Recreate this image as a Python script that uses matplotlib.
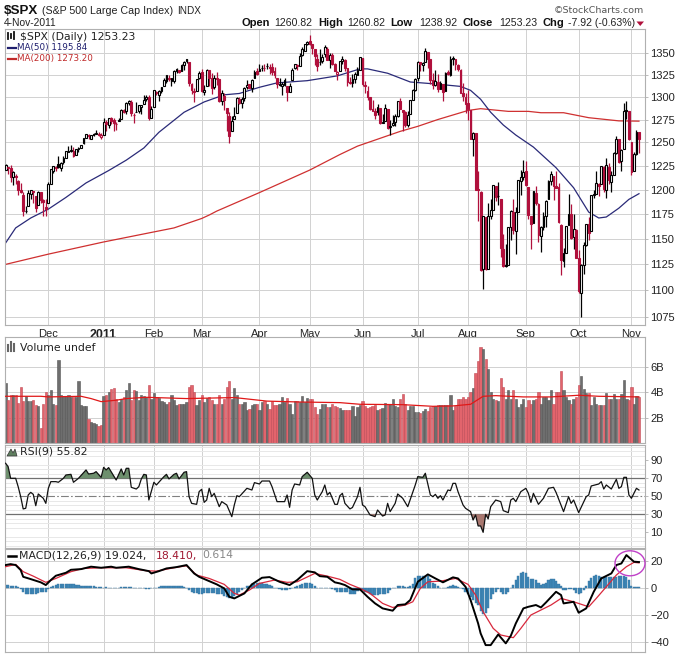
import numpy as np
import matplotlib
matplotlib.use('Agg')
import matplotlib.pyplot as plt
from matplotlib.lines import Line2D
from matplotlib.patches import Ellipse, Polygon
from matplotlib.ticker import NullFormatter

# daily prices, 5-Nov-2010 to 4-Nov-2011, month by month
close = [1225.85,1223.25,1213.40,1218.71,1213.54,1199.21,1197.75,1178.34,1178.59,1196.69,1199.73,1197.84,1180.73,1198.07,1189.40,1187.76,1180.55,
    1206.07,1221.53,1224.71,1223.12,1223.75,1228.28,1233.00,1240.40,1240.46,1241.59,1235.23,1242.87,1243.91,1247.08,1254.60,1258.84,1256.77,1257.54,1258.51,1259.78,1257.88,1257.64,
    1271.87,1270.20,1276.56,1273.85,1271.50,1269.75,1274.48,1285.96,1283.76,1293.24,1295.02,1281.92,1280.26,1283.35,1290.84,1291.18,1296.63,1299.54,1276.34,1286.12,
    1307.59,1304.03,1307.10,1310.87,1319.05,1324.57,1320.88,1321.87,1329.15,1332.32,1328.01,1336.32,1340.43,1343.01,1315.44,1307.40,1306.10,1319.88,1327.22,
    1306.33,1308.44,1330.97,1321.15,1310.13,1321.82,1320.02,1295.11,1304.28,1296.39,1281.87,1256.88,1273.72,1279.21,1298.38,1293.77,1297.54,1309.66,1313.80,1310.19,1319.44,1328.26,1325.83,
    1332.41,1332.87,1332.63,1335.54,1333.51,1328.17,1324.46,1314.16,1314.41,1314.52,1319.68,1305.14,1312.62,1330.36,1337.38,1335.25,1347.24,1355.66,1360.48,1363.61,
    1361.22,1356.62,1347.32,1335.10,1340.20,1346.29,1357.16,1342.08,1348.65,1337.77,1329.47,1328.98,1340.68,1343.60,1333.27,1317.37,1316.28,1320.47,1325.69,1331.10,1345.20,
    1314.55,1312.94,1300.16,1286.17,1284.94,1279.56,1289.00,1270.98,1271.83,1287.87,1265.42,1267.64,1271.50,1278.36,1295.52,1287.14,1283.50,1268.45,1280.10,1296.67,1307.41,1320.64,
    1339.67,1337.88,1339.22,1353.22,1343.80,1319.49,1313.64,1317.72,1308.87,1316.14,1305.44,1326.73,1325.84,1343.80,1345.02,1337.43,1331.94,1304.89,1300.67,1292.28,
    1286.94,1254.05,1260.34,1200.07,1199.38,1119.46,1172.53,1120.76,1172.64,1178.81,1204.49,1192.76,1193.89,1140.65,1123.53,1123.82,1162.35,1177.60,1159.27,1176.80,1210.08,1212.92,1218.89,
    1204.42,1173.97,1165.24,1198.62,1185.90,1154.23,1162.27,1172.87,1188.68,1209.11,1216.01,1204.09,1202.09,1166.76,1129.56,1136.43,1162.95,1175.38,1151.06,1160.40,1131.42,
    1099.23,1123.95,1144.03,1164.97,1155.46,1194.89,1195.54,1207.25,1203.66,1224.58,1200.86,1225.38,1209.88,1215.39,1238.25,1254.19,1229.05,1242.00,1284.59,1285.09,1253.30,
    1218.28,1237.90,1261.15,1253.23]

open_ = [1221,1223,1223,1213,1214,1209,1200,1194,1178,1183,1196,1198,1193,1184,1198,1189,1182,
    1186,1206,1219,1223,1227,1223,1229,1233,1240,1241,1241,1236,1243,1244,1249,1255,1258,1254,1259,1259,1259,1256,
    1258,1272,1269,1277,1275,1270,1273,1276,1285,1284,1293,1294,1280,1283,1284,1289,1292,1298,1300,1277,
    1289,1306,1302,1307,1312,1318,1322,1318,1318,1329,1331,1329,1336,1341,1340,1315,1307,1307,1321,
    1328,1306,1313,1331,1322,1311,1321,1320,1295,1301,1288,1279,1262,1276,1282,1298,1293,1299,1311,1315,1310,1321,1329,
    1329,1333,1333,1335,1334,1334,1329,1322,1314,1312,1314,1313,1306,1319,1333,1337,1335,1348,1353,1361,
    1365,1361,1355,1344,1340,1341,1349,1355,1342,1348,1338,1326,1329,1341,1342,1333,1317,1316,1320,1325,1331,
    1345,1314,1307,1300,1287,1284,1283,1288,1271,1273,1287,1267,1269,1272,1279,1295,1286,1283,1269,1281,1297,1308,
    1321,1340,1337,1340,1352,1343,1319,1314,1317,1309,1315,1307,1328,1325,1343,1344,1337,1331,1305,1300,
    1293,1286,1254,1260,1201,1198,1121,1172,1121,1173,1179,1204,1193,1190,1140,1124,1124,1162,1177,1158,1177,1209,1213,
    1219,1203,1173,1166,1197,1185,1153,1162,1173,1190,1209,1214,1204,1203,1164,1128,1136,1164,1175,1152,1159,
    1131,1098,1124,1144,1165,1158,1194,1196,1206,1206,1224,1200,1224,1208,1215,1239,1254,1230,1243,1284,1284,
    1251,1220,1238,1260.82]

high = [1227,1224,1226,1219,1216,1210,1207,1198,1183,1200,1200,1199,1193,1199,1198,1190,1190,
    1208,1222,1225,1225,1235,1229,1235,1241,1246,1247,1245,1243,1245,1247,1255,1259,1259,1258,1260,1263,1261,1260,
    1277,1275,1277,1278,1277,1272,1277,1287,1287,1294,1297,1297,1282,1294,1291,1291,1302,1302,1302,1290,
    1308,1307,1308,1311,1322,1325,1325,1322,1331,1333,1331,1338,1341,1344,1340,1316,1310,1320,1329,
    1332,1314,1332,1331,1327,1325,1328,1320,1308,1304,1288,1283,1279,1289,1300,1300,1300,1311,1319,1315,1320,1331,1333,
    1338,1336,1338,1339,1338,1339,1334,1322,1322,1317,1321,1313,1316,1333,1338,1338,1350,1358,1361,1364,
    1371,1361,1355,1349,1355,1349,1360,1357,1350,1350,1339,1330,1341,1347,1343,1333,1323,1326,1328,1334,1346,
    1345,1318,1312,1300,1297,1288,1292,1288,1281,1292,1287,1275,1280,1281,1296,1299,1286,1284,1284,1297,1309,1322,
    1341,1340,1340,1356,1352,1343,1327,1331,1326,1318,1315,1328,1331,1347,1347,1344,1338,1332,1316,1304,
    1308,1286,1261,1260,1219,1199,1173,1172,1186,1190,1205,1204,1208,1190,1155,1145,1162,1179,1190,1182,1210,1221,1231,
    1230,1203,1173,1199,1204,1186,1163,1177,1189,1210,1220,1214,1220,1207,1165,1141,1163,1196,1185,1175,1160,
    1139,1125,1147,1165,1172,1195,1200,1220,1207,1225,1225,1233,1228,1219,1240,1257,1254,1243,1293,1295,1284,
    1251,1240,1263,1260.82]

low = [1221,1216,1208,1205,1206,1194,1197,1173,1176,1183,1190,1186,1177,1184,1186,1173,1173,
    1186,1206,1217,1219,1223,1220,1227,1233,1240,1240,1234,1236,1240,1244,1248,1255,1254,1254,1257,1259,1257,1254,
    1258,1262,1266,1270,1262,1263,1273,1276,1282,1281,1291,1279,1271,1283,1282,1281,1292,1295,1274,1277,
    1289,1302,1295,1304,1312,1316,1318,1312,1316,1327,1327,1329,1331,1339,1312,1303,1294,1307,1320,
    1306,1302,1313,1312,1303,1309,1314,1294,1291,1286,1262,1249,1262,1276,1282,1292,1288,1295,1309,1310,1306,1321,1325,
    1329,1329,1330,1332,1326,1325,1322,1310,1313,1302,1313,1295,1306,1319,1332,1331,1336,1347,1353,1360,
    1360,1349,1337,1329,1336,1339,1346,1342,1333,1337,1329,1319,1329,1338,1330,1312,1315,1311,1316,1325,1331,
    1313,1305,1297,1285,1284,1276,1280,1270,1271,1273,1265,1258,1268,1268,1278,1287,1262,1267,1267,1281,1297,1307,
    1318,1330,1330,1340,1333,1315,1309,1313,1306,1309,1295,1307,1325,1324,1336,1331,1329,1304,1296,1282,
    1275,1254,1235,1200,1168,1119,1101,1120,1121,1170,1179,1188,1184,1132,1122,1122,1124,1149,1155,1135,1177,1195,1210,
    1204,1170,1140,1166,1184,1147,1137,1159,1162,1190,1205,1189,1202,1166,1115,1122,1136,1164,1150,1140,1131,
    1098,1075,1116,1143,1149,1158,1191,1196,1193,1206,1198,1191,1206,1198,1215,1238,1228,1220,1243,1276,1253,
    1215,1220,1236,1238.92]

# moving averages, read at the bends (bar number, price)
ma50_x = [0,4,10,17,24,32,41,48,55,61,71,79,87,93,101,108,120,132,141,144,152,161,170,181,185,189,193,198,203,210,219,226,232,236,239,244,248,252]
ma50_y = [1146,1161,1171,1180,1192,1207,1220,1231,1244,1261,1283,1294.5,1302.5,1304,1311,1316,1318.5,1324,1332,1332,1327,1317,1315,1312,1307.5,1297.5,1283,1269,1258,1245,1223,1202,1177,1171,1172,1181,1190,1195.84]
ma200_x = [0,17,39,59,67,78,81,84,101,110,121,133,140,157,164,172,184,189,200,208,213,222,232,244,252]
ma200_y = [1125,1135,1147,1157,1161,1170.5,1174,1178,1197,1207.5,1220.5,1237,1246,1262,1267.5,1275,1285,1287,1284,1284,1282.5,1282.5,1277,1273.5,1273.2]

# volume in billions
volume = [4.76,3.4,3.8,3.8,3.8,3.15,4.4,3.3,3.7,3.3,3.3,3.4,3.0,2.9,1.15,3.05,4.0,
    3.8,4.2,3.1,3.0,6.5,3.8,3.7,3.7,3.8,3.6,3.6,3.6,4.85,3.0,2.9,2.9,1.9,1.65,1.6,1.5,1.35,1.45,
    3.7,3.8,4.0,4.25,4.3,3.5,3.25,3.5,3.6,4.15,4.7,3.35,4.15,4.1,3.35,3.8,3.7,3.6,4.6,3.5,
    3.9,3.6,3.55,3.3,3.25,3.1,3.25,3.8,3.35,3.0,3.1,3.1,3.1,3.25,4.4,4.6,4.05,3.0,3.35,
    3.75,3.25,3.55,3.6,3.35,3.1,3.05,3.8,3.05,3.45,4.4,4.85,3.45,4.35,3.75,3.1,3.1,3.25,2.6,2.7,3.0,3.1,3.1,
    2.6,3.25,3.3,3.1,2.7,3.3,3.0,3.0,3.1,3.6,3.25,3.55,3.1,2.3,3.3,3.3,3.25,3.7,3.25,3.55,
    3.5,3.5,2.8,2.25,2.65,3.05,3.05,2.8,2.8,3.1,2.9,2.8,2.75,2.6,2.6,2.6,2.6,2.9,2.1,2.85,3.0,
    3.3,2.9,2.75,2.85,2.9,3.0,2.6,2.7,2.75,3.15,3.1,3.1,3.45,2.9,2.85,3.45,3.85,3.1,2.6,2.9,2.9,2.45,
    2.45,2.4,2.55,2.7,2.5,2.8,2.95,2.95,3.0,3.0,3.0,3.0,3.0,3.75,2.6,2.9,3.5,3.5,3.6,3.5,
    3.6,4.05,4.3,5.55,6.45,7.55,7.4,6.65,5.85,4.0,3.5,3.4,3.3,5.15,4.4,3.5,4.15,3.5,4.2,3.5,2.85,3.1,3.5,
    2.85,3.35,3.1,3.35,3.5,4.05,3.1,3.6,3.6,3.35,4.15,3.1,4.0,4.0,5.7,4.15,3.6,3.35,3.1,3.5,3.6,
    4.55,5.25,4.25,3.9,3.9,3.0,3.6,3.1,3.0,3.0,3.0,3.95,3.5,3.5,3.85,3.5,3.5,3.85,5.0,3.5,3.35,
    4.4,3.1,3.7,3.6]
vol_ma_x = [0,14,17,30,34,38,44,48,56,72,91,104,117,133,141,158,170,178,185,190,195,206,217,228,236,252]
vol_ma_y = [3.68,3.68,3.63,3.68,3.5,3.26,3.37,3.5,3.6,3.5,3.58,3.3,3.23,3.18,3.05,3.02,2.89,2.92,3.05,3.68,3.73,3.63,3.63,3.76,3.68,3.63]

# RSI(9), read at the peaks and dips
rsi_x = [0,1,2,4,5,6,7,8,9,10,11,12,13,15,16,17,18,20,21,23,24,26,27,29,32,33,35,36,38,39,40,41,44,46,47,48,49,50,52,53,54,55,56,57,59,60,63,64,65,67,68,69,71,72,73,74,76,77,78,79,80,81,82,83,85,86,88,90,91,92,93,96,98,99,101,102,105,106,108,111,112,113,114,115,117,118,120,122,123,124,126,127,128,129,130,131,132,133,
    134,135,137,138,140,141,142,143,145,147,148,150,151,152,153,155,156,158,160,163,164,166,167,169,170,171,172,173,174,176,177,178,179,180,182,183,185,186,187,188,189,190,191,192,193,195,197,198,200,201,202,203,205,207,208,209,210,212,214,216,218,219,222,224,225,226,228,231,232,233,236,237,238,239,241,243,244,245,246,247,248,249,251,252]
rsi_y = [86.7,83,70,70,60.7,49.6,36,36.7,51.5,54.4,52.2,39.6,52.6,47.8,42.2,58.9,66.3,66.3,65.6,70,73.7,74.4,65.6,70,79.3,74.8,75.6,77.4,71.1,82.2,79.3,81.9,68.1,80.4,73.7,81.1,81.1,60,58.1,60.7,69.3,74.4,73.7,45.9,65.6,62.6,71.9,74.4,69.3,74.4,75.6,69.3,76.7,77.4,49.6,42.2,41.1,55.2,57.8,43.3,45.9,58.9,49.6,53.3,38.5,44.1,40.4,27.4,40.4,50.7,49.6,58.9,57,65.2,63.7,67,67,60.7,44.1,44.1,51.5,37.8,57,63.7,62.6,71.9,76.7,70,51.5,45.9,55.2,62.6,51.5,54.4,47.8,41.1,41.1,50.7,
    53.3,42.2,36,37.6,49.6,60,40.4,38.5,29.3,27.4,34.8,28.1,29.3,42.2,33,42.2,52.6,47.8,38.5,62.6,71.9,71.1,75.6,51.5,49.6,52.2,47.8,50.7,45.9,57,56.3,64.4,64.4,55.2,40.4,36.7,33,23.7,29.3,17.1,17.1,10,30,24.9,38.5,45.9,44.1,34.1,31.9,45.9,47.8,44.1,55.2,58.9,53.3,43.3,53.3,41.1,47.8,58.9,60,54.4,33,49.6,42.2,45.9,31.9,49.6,51.5,61.5,63.7,66.3,58.1,62.6,58.1,68.9,58.9,60.7,71.1,71.1,51.5,47.8,58.9,57]

# MACD line and signal line, read at the bends
macd_x = [0,2,4,6,7,10,14,16,18,20,24,26,30,34,38,42,44,49,53,57,58,61,64,68,72,75,77,81,84,87,89,91,95,98,102,105,109,113,116,120,123,125,128,131,133,135,138,141,144,147,150,154,156,159,161,164,168,171,174,178,180,183,185,188,189,191,193,196,199,201,203,206,208,211,213,215,219,221,222,226,228,231,234,237,241,243,245,247,250,252]
macd_y = [16.8,17.5,16.8,13.1,8.1,6.4,4,2,5.7,8.9,11.1,13.3,13.8,15.6,14.8,15.6,14.8,15.6,13.8,12.3,10.6,12.3,14.3,15.3,16.8,10.6,8.1,4.9,2.5,-0.5,-6.7,-7.9,-4.2,2.5,7.4,7.9,4.4,2,5.7,12.3,11.4,8.6,8.1,4,3.2,2,-1.2,-1.2,-6.7,-11.6,-15.3,-17,-12.8,-12.3,-9.1,4.4,9.9,6.9,4,7.7,6.9,0.7,-9.1,-26.4,-33.8,-42.5,-42.5,-34.6,-41.2,-35.6,-26.4,-15.3,-14.1,-12.8,-14.6,-10.9,-3,-5.4,-11.6,-10.4,-18.5,-15.3,-3,6.9,10.6,16.8,18,24.2,19.3,19.024]
signal_x = [0,4,7,11,16,20,26,31,38,48,56,60,67,72,76,81,87,91,93,97,101,107,112,116,123,128,133,137,141,145,150,154,159,162,165,168,173,179,184,187,190,194,197,202,205,209,213,217,221,226,232,235,239,243,247,250,252]
signal_y = [15.6,17.3,11.9,8.6,4,6.9,11.9,14.3,14.8,14.8,12.6,12.3,14.8,16.3,9.4,6.9,2.5,-4.2,-5.4,-1.7,3.2,5.7,4,4.4,10.6,8.6,6.2,2.5,-0.5,-4.2,-11.6,-14.6,-12.8,-10.4,-0.5,4.4,4.9,6.9,2.5,-5.4,-17.8,-30.1,-35,-37,-30.1,-20.2,-16.5,-12.8,-7.9,-10.4,-14.1,-7.9,0.7,9.4,15.6,18.8,18.41]
hist = [2,2,1.5,1.5,1,0.5,-1,-3,-5,-5,-5,-4.5,-4.5,-4,-3.5,-3.5,-3.5,-1,0.5,1,2,2.5,3,3,3,3,2.5,2.5,2,2,1.5,1.5,1,1,1,1,0.5,0.5,0.5,0,0.5,0,0,0,0,0,0.5,0.5,0.5,0.5,0.5,0,0,-0.5,-0.5,-0.5,-1,-1,-0.5,0,0,0.5,1,1,1.5,1.5,1.5,1.5,1,1,1,0.5,0,-1.5,-3.5,-4,-4,-4.5,-4.5,-4,-4,-4,-4,-4,-4.5,-4.5,-5,-6,-7,-7.5,-7.5,-6,-4.5,-3,-1.5,-0.5,1,1.5,2.5,3,3.5,3.5,3.5,3,2.5,2,1,0,-0.5,-1,-1.5,-1.5,-1.5,-1,0,0.5,1.5,2,2.5,3.5,3.5,3.5,3,1.5,0,-0.5,-0.5,-0.5,-0.5,-0.5,-1,-2,-3,-3,
    -3,-3,-3.5,-4.5,-4.5,-4.5,-2.5,-1.5,-1.5,-3,-3.5,-4.5,-5.5,-5.5,-5.5,-5,-4.5,-4.5,-4,-1.5,-0.5,0,1,1.5,1.5,0.5,0.5,1,3,7,8.5,9,9,9,8.5,6.5,3.5,2.5,1,0,0,0,0.5,1.5,2,1.5,0.5,0,-1,-3,-5,-7,-9,-11,-13,-17,-19.5,-19,-15,-8,-5,-3,-1,-3,-5,-5,-3,0,2,6,9,11,11.5,11,8,6.5,6.5,6,3.5,2,3,3.5,6,6.5,6.5,5,3,1,-1.5,-2,-1,-1,-1.5,-4,-5,-4,-2,1,5,7.5,9,9.5,9,8,8,8,8,8,8,8,8.5,9,9,8,6,1,0.5,0.5,0.614]

month_pos = [17,39,59,78,101,121,142,164,184,207,228,249]
month_labels = ['Dec','2011','Feb','Mar','Apr','May','Jun','Jul','Aug','Sep','Oct','Nov']
price_ticks = [1075,1100,1125,1150,1175,1200,1225,1250,1275,1300,1325,1350]

W, H = 681, 655
UP = '#000000'
DOWN = '#b0103c'
GRID = '#d2d2d2'
BORDER = '#b0b0b0'
plt.rcParams['font.family'] = ['Liberation Sans', 'DejaVu Sans']

fig = plt.figure(figsize=(W/100, H/100), dpi=100, facecolor='white')

def panel(top, bottom):
    ax = fig.add_axes([4.5/W, 1-bottom/H, (645-4.5)/W, (bottom-top)/H])
    ax.set_xlim(-0.44, 254.4)
    ax.set_xticks(month_pos)
    ax.tick_params(axis='x', length=0, labelbottom=False)
    ax.yaxis.tick_right()
    ax.tick_params(axis='y', length=2, width=0.6, color=BORDER, labelsize=8, pad=2, labelcolor='#222222')
    ax.grid(True, color=GRID, linewidth=0.72)
    ax.set_axisbelow(True)
    for s in ax.spines.values():
        s.set_color(BORDER)
        s.set_linewidth(0.8)
    return ax

def label(x, y, s, size=7.8, color='#222222', weight='normal', family=None, ha='left'):
    fig.text(x/W, 1-y/H, s, fontsize=size, color=color, fontweight=weight, va='center', ha=ha,
             family=family if family else ['Liberation Sans', 'DejaVu Sans'])

x = np.arange(len(close))
close = np.array(close)
open_ = np.array(open_)
high = np.array(high)
low = np.array(low)
prev = np.r_[close[0]-1, close[:-1]]
up_day = close >= prev
colors = np.where(up_day, UP, DOWN)

# price panel
ax1 = panel(29, 325)
ax1.set_yscale('log')
ax1.set_ylim(1067.6, 1378.7)
ax1.set_yticks(price_ticks)
ax1.set_yticklabels([str(p) for p in price_ticks])
ax1.yaxis.set_minor_formatter(NullFormatter())
ax1.set_yticks([], minor=True)
ax1.set_xticklabels(month_labels)
ax1.tick_params(axis='x', labelbottom=True, labelsize=8, pad=3, labelcolor='#222222')
ax1.get_xticklabels()[1].set_fontweight('bold')
ax1.get_xticklabels()[1].set_fontsize(9)

ax1.plot(ma200_x, ma200_y, color='#cf3030', linewidth=0.9, zorder=2)
ax1.plot(ma50_x, ma50_y, color='#2a2a78', linewidth=0.9, zorder=2)
ax1.vlines(x, low, high, colors=colors, linewidth=0.9, zorder=3)
body_bottom = np.minimum(open_, close)
body_height = np.maximum(np.abs(close-open_), 0.4)
hollow = close > open_
ax1.bar(x, body_height, bottom=body_bottom, width=0.72,
        color=['white' if h else c for h, c in zip(hollow, colors)],
        edgecolor=colors, linewidth=0.8, zorder=4)

# volume panel
ax2 = panel(337, 443)
ax2.set_ylim(0, 8.35)
ax2.set_yticks([2,4,6])
ax2.set_yticklabels(['2B','4B','6B'])
vol_colors = np.where(up_day, '#6e6e6e', '#e2646c')
vol_edges = np.where(up_day, '#555555', '#c04a55')
ax2.bar(x, volume, width=0.9, color=vol_colors, edgecolor=vol_edges, linewidth=0.4, zorder=2)
ax2.plot(vol_ma_x, vol_ma_y, color='#e01818', linewidth=0.9, zorder=3)

# RSI panel
ax3 = panel(445, 548)
ax3.set_ylim(-7.4, 107)
ax3.set_yticks([10,30,50,70,90])
ax3.set_yticks(np.arange(-5, 106, 5), minor=True)
ax3.tick_params(axis='y', which='minor', length=0)
ax3.grid(True, which='minor', axis='y', color='#e8e8e8', linewidth=0.7)
ax3.grid(False, which='major', axis='y')
ax3.axhline(70, color='#707070', linewidth=0.9, zorder=2)
ax3.axhline(30, color='#707070', linewidth=0.9, zorder=2)
ax3.axhline(50, color='#808080', linewidth=0.8, linestyle=(0, (7, 2, 1.5, 2)), zorder=2)
rsi_x = np.array(rsi_x)
rsi_y = np.array(rsi_y)
ax3.fill_between(rsi_x, 70, rsi_y, where=rsi_y >= 70, interpolate=True, color='#6d8f6d', linewidth=0, zorder=2)
ax3.fill_between(rsi_x, 30, rsi_y, where=rsi_y <= 30, interpolate=True, color='#a8776f', linewidth=0, zorder=2)
ax3.plot(rsi_x, rsi_y, color='#111111', linewidth=0.9, zorder=3)

# MACD panel
ax4 = panel(549, 652)
ax4.set_ylim(-47.6, 28.7)
ax4.set_yticks([-40,-20,0,20])
ax4.bar(x, hist, width=0.85, color='#3f87b8', edgecolor='#35749f', linewidth=0.3, zorder=2)
ax4.plot(signal_x, signal_y, color='#d8283c', linewidth=0.9, zorder=3)
ax4.plot(macd_x, macd_y, color='#000000', linewidth=1.4, zorder=4)

# circle drawn by hand on the original
fig.add_artist(Ellipse((630/W, 1-563.3/H), 30/W, 25/H, transform=fig.transFigure, fill=False,
                       edgecolor='#c040c8', linewidth=1.0))

# header
label(4, 10.5, '$SPX', size=9.6, color='#111111', weight='bold')
label(42, 10.5, '(S&P 500 Large Cap Index)', size=7.7)
label(177, 10.5, 'INDX', size=7.2)
label(4, 23.5, '4-Nov-2011', size=7.4)
for px, s in [(241.5,'Open'),(318,'High'),(390.5,'Low'),(462.5,'Close'),(542.5,'Chg')]:
    label(px, 23, s, size=8, weight='bold', color='#111111')
for px, s in [(274,'1260.82'),(347,'1260.82'),(419,'1238.92'),(499,'1253.23'),(567.5,'-7.92 (-0.63%)')]:
    label(px, 23.5, s, size=7.6)
fig.add_artist(Polygon([[636.5/W, 1-21.5/H], [644/W, 1-21.5/H], [640.2/W, 1-26/H]], closed=True,
                       transform=fig.transFigure, facecolor=DOWN, edgecolor='none'))
label(644, 10.5, '\u00a9StockCharts.com', size=6.8, color='#555555', family='DejaVu Sans', ha='right')

# panel legends
dv = 'DejaVu Sans'
label(20, 36.5, '$SPX (Daily) 1253.23', size=7.8, family=dv)
label(17, 47.5, 'MA(50) 1195.84', size=6.3, color='#1e1e6e', family=dv)
label(17, 58.5, 'MA(200) 1273.20', size=6.3, color='#c02a2a', family=dv)
label(20, 347.5, 'Volume undef', size=7.8, family=dv)
label(20, 452, 'RSI(9) 55.82', size=7.8, family=dv)
label(19, 555.5, 'MACD(12,26,9) 19.024,', size=7.8, family=dv)
label(155.5, 555.5, '18.410,', size=7.8, color='#a01830', family=dv)
label(202.5, 555.5, '0.614', size=7.8, color='#888888', family=dv)

def legend_line(x0, x1, y, color, lw=1.6):
    fig.add_artist(Line2D([x0/W, x1/W], [1-y/H, 1-y/H], color=color, linewidth=lw))

legend_line(8, 16, 47.5, '#1e1e6e')
legend_line(8, 16, 58.5, '#c02a2a')
legend_line(8, 16, 555.5, '#000000', 1.8)
# little candle and bar glyphs in front of the legends
for px, y0, y1, c, lw in [(8,33,39,'#111111',1.3),(11,34,38,'#111111',1.3),(14,32,39,'#111111',1.3),
                          (8,345,351,'#666666',1.5),(11,342,351,'#666666',1.5),(14,344,351,'#666666',1.5)]:
    fig.add_artist(Line2D([px/W, px/W], [1-y0/H, 1-y1/H], color=c, linewidth=lw))
fig.add_artist(Polygon([[7/W, 1-456/H], [11/W, 1-449/H], [13/W, 1-453/H], [15/W, 1-449/H], [17/W, 1-456/H]],
                       closed=True, transform=fig.transFigure, facecolor='#5f7f5f', edgecolor='#333333', linewidth=0.5))

fig.savefig('out.png', dpi=100)
